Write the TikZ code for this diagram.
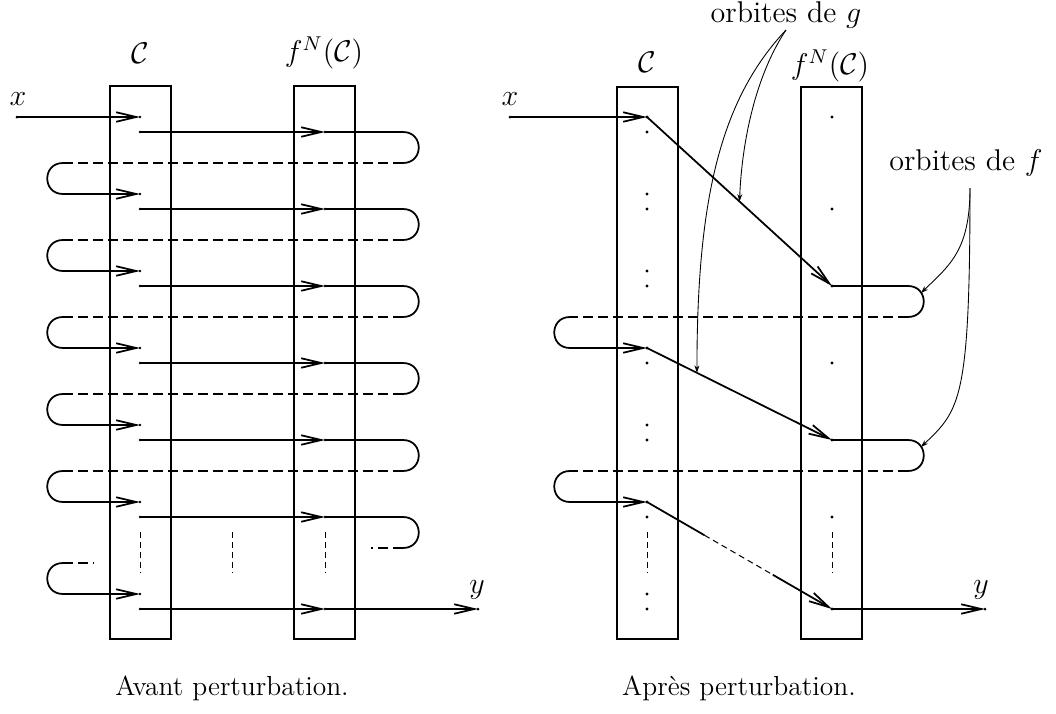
\documentclass[tikz,border=0pt]{standalone}
\usepackage{tikz}
\usetikzlibrary{arrows.meta}

\begin{document}
\begin{tikzpicture}[
  x=0.4pt, y=-0.4pt,
  cell/.style={draw, line width=0.45pt},
  orb/.style={line width=0.7pt},
  tip/.style={orb, -{Straight Barb[length=8pt, width=3.8pt]}},
  ret/.style={line width=0.5pt, dash pattern=on 4pt off 2pt},
  etc/.style={line width=0.4pt, dash pattern=on 2.4pt off 1.6pt},
  ann/.style={line width=0.35pt, -{Stealth[length=3pt, width=2pt]}},
  lab/.style={font=\large, inner sep=1pt},
  captxt/.style={font=\fontsize{11}{13}\selectfont},
]
\useasboundingbox (0,0) rectangle (1056,714);

%% Avant perturbation
\draw[cell] (110,86) rectangle (171,639);
\draw[cell] (294,86) rectangle (355,639);
\node[lab] (cA) at (140,53) {$\mathcal{C}$};
\node[lab] (fA) at (324,53) {$f^N(\mathcal{C})$};
\node[lab] (xA) at (18,99) {$x$};
\node[lab] (yA) at (477,590) {$y$};
\node[captxt] (capA) at (232,688) {Avant perturbation.};

\coordinate (xa) at (17,117);
\coordinate (ya) at (478,609);
\coordinate (lx) at (63,0);
\foreach \k/\y in {0/117,1/194,2/271,3/348,4/425,5/502,6/594}{
  \coordinate (a\k) at (140,\y);
  \coordinate (b\k) at (140,\y+15);
  \coordinate (c\k) at (325,\y+15);
  \fill (a\k) circle[radius=0.55pt] (b\k) circle[radius=0.55pt] (c\k) circle[radius=0.55pt];
  \draw[tip] (b\k) -- (c\k);
}
\fill (xa) circle[radius=0.6pt] (ya) circle[radius=0.6pt];
\draw[tip] (xa) -- (a0);
\foreach \k [evaluate=\k as \n using int(\k+1)] in {0,...,4}{
  \draw[orb] (c\k) -- ++(78,0) .. controls +(21,0) and +(21,0) .. ++(0,31) coordinate (s\k);
  \draw[ret] (s\k) -- (s\k -| lx) coordinate (l\k);
  \draw[tip] (l\k) .. controls +(-21,0) and +(-21,0) .. (a\n -| lx) -- (a\n);
}
%% last turns
\draw[orb] (c5) -- ++(78,0) .. controls +(21,0) and +(21,0) .. ++(0,31) coordinate (s5);
\draw[ret] (s5) -- ++(-32,0);
\coordinate (l5) at (63,563);
\draw[ret] (l5) -- ++(31,0);
\draw[tip] (l5) .. controls +(-21,0) and +(-21,0) .. (a6 -| lx) -- (a6);
\draw[tip] (c6) -- (ya);
\foreach \x in {140,232,325}
  \draw[etc] (\x,532) -- (\x,573);

%% Apres perturbation
\draw[cell] (617,87) rectangle (678,639);
\draw[cell] (801,87) rectangle (862,639);
\node[lab] (cB) at (647,62) {$\mathcal{C}$};
\node[lab] (fB) at (830,66) {$f^N(\mathcal{C})$};
\node[lab] (xB) at (510,99) {$x$};
\node[lab] (yB) at (981,590) {$y$};
\node[captxt] (capB) at (739,688) {Apr\`es perturbation.};

\foreach \y in {117,132,194,209,271,286,348,363,425,440,502,517,594,609}
  \fill (647,\y) circle[radius=0.65pt];
\foreach \y in {117,209,286,363,440,517,609}
  \fill (832,\y) circle[radius=0.65pt];
\foreach \x in {647,832}
  \draw[etc] (\x,532) -- (\x,573);

\coordinate (xb) at (510,117);
\coordinate (yb) at (985,609);
\coordinate (rx) at (570,0);
\foreach \k/\u/\v in {0/117/286, 1/348/440, 2/502/609}{
  \coordinate (p\k) at (647,\u);
  \coordinate (q\k) at (832,\v);
}
\fill (xb) circle[radius=0.6pt] (yb) circle[radius=0.6pt];
\draw[tip] (xb) -- (p0);
\foreach \k [evaluate=\k as \n using int(\k+1)] in {0,1}{
  \draw[tip] (p\k) -- (q\k);
  \draw[orb] (q\k) -- ++(76,0) .. controls +(21,0) and +(21,0) .. ++(0,31) coordinate (t\k);
  \draw[ret] (t\k) -- (t\k -| rx) coordinate (u\k);
  \draw[tip] (u\k) .. controls +(-21,0) and +(-21,0) .. (p\n -| rx) -- (p\n);
}
\path (p2) -- (q2) coordinate[pos=0.31] (d1) coordinate[pos=0.68] (d2);
\draw[orb] (p2) -- (d1);
\draw[etc] (d1) -- (d2);
\draw[tip] (d2) -- (q2);
\draw[tip] (q2) -- (yb);

%% annotations
\node[lab] (og) at (786,15) {orbites de $g$};
\node[lab] (of) at (966,163) {orbites de $f$};
\path (p0) -- (q0) coordinate[pos=0.5] (g0);
\path (p1) -- (q1) coordinate[pos=0.27] (g1);
\coordinate (ga) at (786,30);
\coordinate (fa) at (970,188);
\coordinate (f0) at (921,293);
\coordinate (f1) at (921,447);
\draw[ann] (ga) .. controls (756,75) and (742,140) .. (g0);
\draw[ann] (ga) .. controls (720,100) and (697,200) .. (g1);
\draw[ann] (fa) .. controls (970,250) and (950,265) .. (f0);
\draw[ann] (fa) .. controls (970,400) and (960,410) .. (f1);
\end{tikzpicture}
\end{document}
